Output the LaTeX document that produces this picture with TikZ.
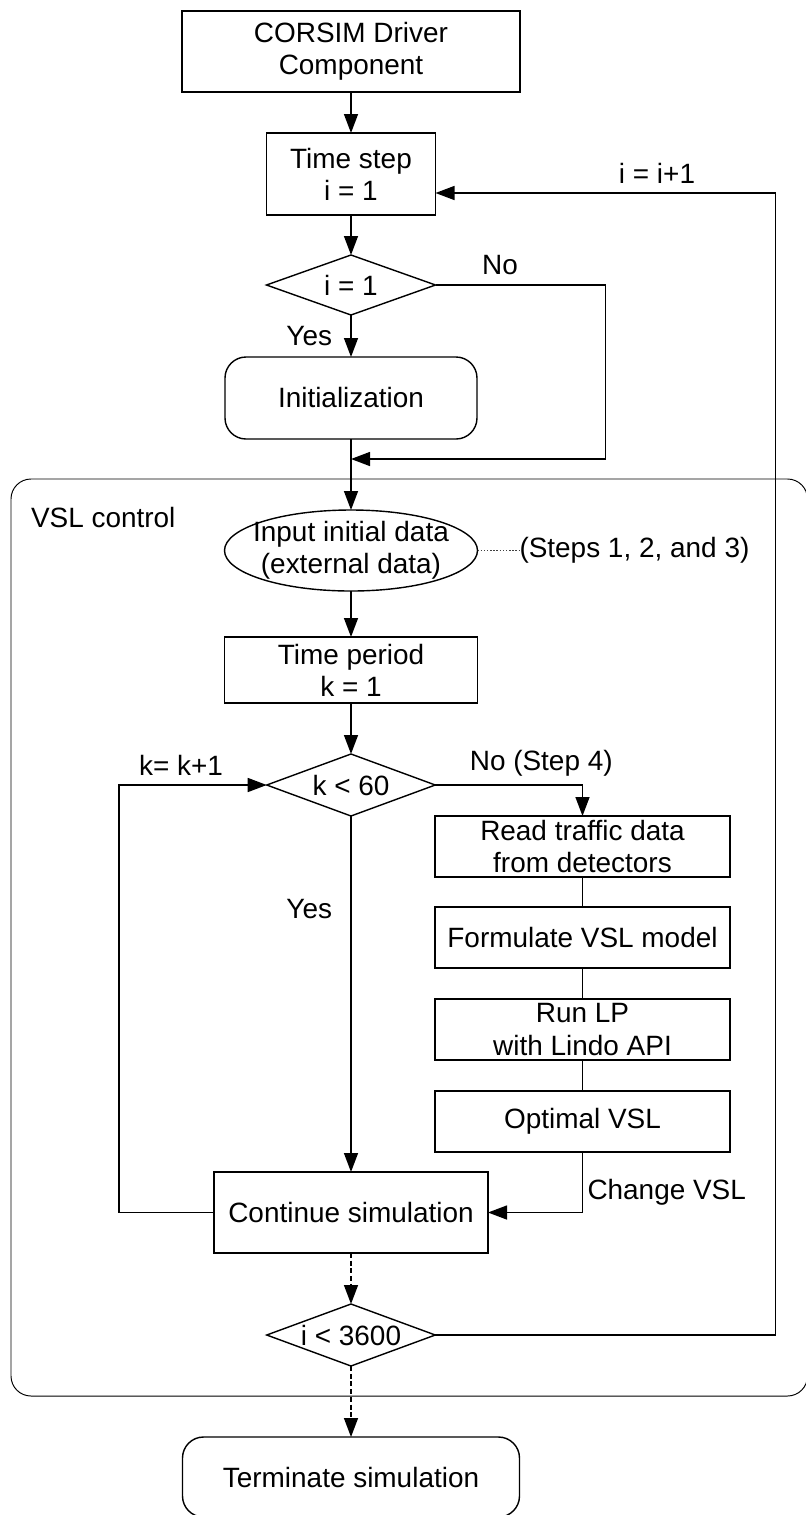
\documentclass[tikz,border=0pt]{standalone}
\usepackage{fontspec}
\setmainfont{Liberation Sans}
\usetikzlibrary{arrows.meta,positioning,shapes.geometric}

\begin{document}
\begin{tikzpicture}[
  font=\fontsize{15.9}{18.3}\selectfont,
  line width=0.8pt, outer sep=0pt,
  box/.style={draw, align=center, minimum width=5.9cm, minimum height=1.22cm, inner sep=0pt},
  rbox/.style={draw, rounded corners=0.42cm, align=center, inner sep=0pt},
  dec/.style={draw, diamond, aspect=2.7, inner sep=0pt, minimum width=3.37cm, minimum height=1.22cm},
  io/.style={draw, ellipse, inner sep=0pt, minimum width=5.06cm, minimum height=1.62cm},
  lbl/.style={inner sep=0pt},
  arrow/.style={-{Triangle[length=3.8mm, width=2.8mm]}},
  dasharrow/.style={arrow, dash pattern=on 2.8pt off 1.6pt}
]
\useasboundingbox (0,0) rectangle (16.12,-30.3);

% main column
\node[box, minimum width=6.76cm, minimum height=1.62cm] (corsim) at (7.02,-1.03) {CORSIM Driver\\Component};
\node[box, minimum width=3.38cm, minimum height=1.64cm, below=0.82cm of corsim] (tstep) {Time step\\i = 1};
\node[dec, minimum width=3.38cm, minimum height=1.2cm, below=0.8cm of tstep] (chk1) {i = 1};
\node[rbox, minimum width=5.04cm, minimum height=1.64cm, below=0.84cm of chk1] (init) {Initialization};
\node[io, below=1.42cm of init] (input) {};
\node[align=center] at (input) {Input initial data\\(external data)};
\node[lbl, right=0.84cm of input] (steps) {(Steps 1, 2, and 3)};
\node[box, minimum width=5.06cm, minimum height=1.32cm, below=0.92cm of input] (tperiod) {Time period\\k = 1};
\node[dec, minimum height=1.24cm, below=1.02cm of tperiod] (chk2) {k < 60};
\node[box, minimum width=5.48cm, minimum height=1.62cm, below=7.12cm of chk2] (cont) {Continue simulation};
\node[dec, minimum height=1.24cm, below=1.02cm of cont] (chk3) {i < 3600};
\node[rbox, minimum width=6.74cm, minimum height=1.6cm, below=1.42cm of chk3] (stop) {Terminate simulation};

% VSL side column
\node[box, anchor=north] (read) at ([xshift=4.63cm]chk2.south) {Read traffic data\\from detectors};
\node[box, below=0.6cm of read] (form) {Formulate VSL model};
\node[box, below=0.62cm of form] (runlp) {Run LP\\with Lindo API};
\node[box, below=0.62cm of runlp] (optvsl) {Optimal VSL};

% VSL control frame
\draw[line width=0.55pt, rounded corners=0.4cm] (0.22,-9.58) rectangle (16.15,-27.92);
\node[lbl, anchor=west] (vsl) at (0.62,-10.36) {VSL control};

% connectors
\draw[arrow] (corsim) -- (tstep);
\draw[arrow] (tstep) -- (chk1);
\draw[arrow] (chk1) -- node[lbl, left=0.38cm] {Yes} (init);
\coordinate[below=0.4cm of init] (join);
\draw[arrow] (chk1.east) -- node[lbl, pos=0.38, above=0.2cm] {No} ++(3.4,0) |- (join);
\draw[arrow] (init) -- (input);
\draw[densely dotted, darkgray, line width=0.8pt] (input) -- (steps);
\draw[arrow] (input) -- (tperiod);
\draw[arrow] (tperiod) -- (chk2);
\draw[arrow] (chk2) -- node[lbl, pos=0.26, left=0.38cm] {Yes} (cont);
\draw[arrow] (chk2.east) -| node[lbl, pos=0.36, above=0.18cm] {No (Step 4)} (read);
\draw (read) -- (form);
\draw (form) -- (runlp);
\draw (runlp) -- (optvsl);
\draw[arrow] (optvsl) |- node[lbl, pos=0.33, right=0.1cm] {Change VSL} (cont);
\draw[arrow] (cont.west) -- ++(-1.9,0) |- node[lbl, pos=0.71, above=0.2cm] {k= k+1} (chk2);
\draw[dasharrow] (cont) -- (chk3);
\draw[arrow] (chk3.east) -- ++(6.8,0) |- node[lbl, pos=0.674, above=0.2cm] {i = i+1} ([yshift=-0.38cm]tstep.east);
\draw[dasharrow] (chk3) -- (stop);
\end{tikzpicture}
\end{document}
